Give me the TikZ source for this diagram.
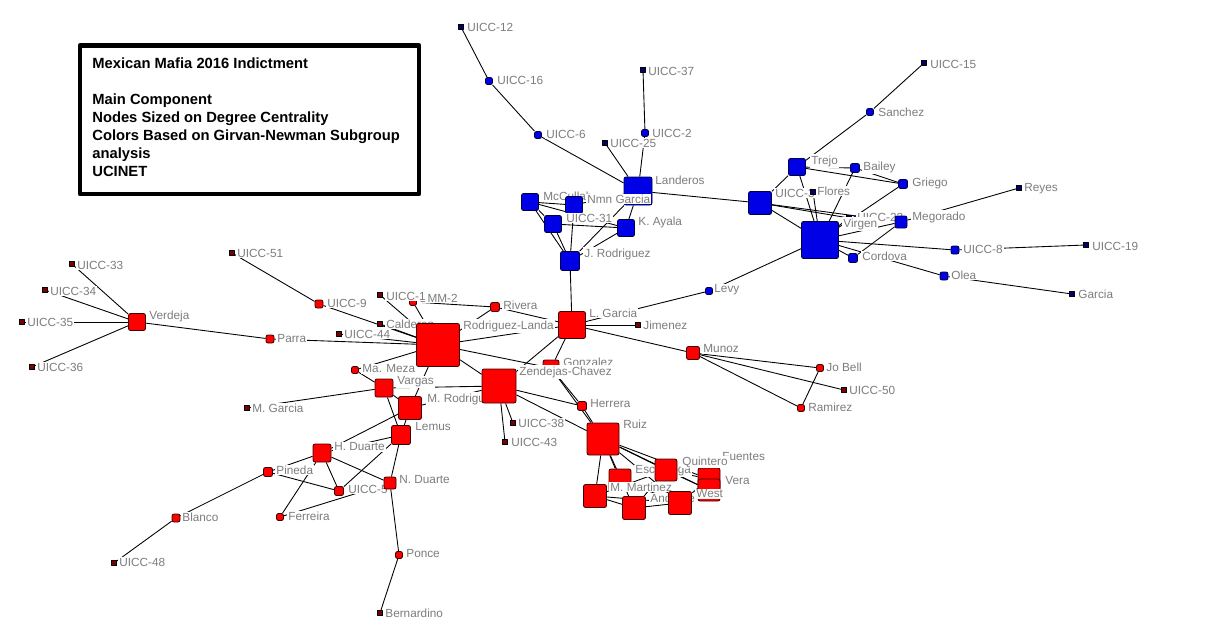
\documentclass[tikz,border=0pt]{standalone}
\usepackage{fontspec}
\usepackage{tikz}
\newfontfamily\lblfont{Liberation Sans}
\definecolor{ucred}{RGB}{255,0,0}
\definecolor{ucblue}{RGB}{0,0,230}
\definecolor{ucdkred}{RGB}{120,0,0}
\definecolor{ucdkblue}{RGB}{0,0,110}
\definecolor{ucgray}{RGB}{125,125,125}
\pgfdeclarelayer{bg}
\pgfsetlayers{bg,main}

\begin{document}
\begin{tikzpicture}[line cap=round,line join=round,x=0.02cm,y=-0.02cm,
  rsq/.style={draw=black!75!red,fill=ucred,rounded corners=1.2pt,inner sep=0pt,minimum size=#1*0.02cm,line width=0.5pt},
  bsq/.style={draw=black!75!blue,fill=ucblue,rounded corners=1.2pt,inner sep=0pt,minimum size=#1*0.02cm,line width=0.5pt},
  rdot/.style={draw=black,fill=ucdkred,inner sep=0pt,minimum size=0.1cm,line width=0.3pt},
  bdot/.style={draw=black,fill=ucdkblue,inner sep=0pt,minimum size=0.1cm,line width=0.3pt},
  lbl/.style={anchor=west,text=ucgray,fill=white,inner sep=0.6pt,font=\lblfont\fontsize{6.7}{8}\selectfont},
  tie/.style={line width=0.5pt,black}]
\useasboundingbox (0,0) rectangle (1206,642);

% legend box
\draw[line width=2.55pt] (80,45.5) rectangle (419,194);
\node[anchor=north west,align=left,inner sep=0pt,font=\lblfont\bfseries\fontsize{8.4}{10.2}\selectfont] (legend) at (92,57.5)
  {Mexican Mafia 2016 Indictment\\[10.2pt]Main Component\\Nodes Sized on Degree Centrality\\Colors Based on Girvan-Newman Subgroup\\analysis\\UCINET};

% red subgroup, left
\node[rsq=17] (verdeja) at (137,322) {}; \node[lbl] (verdeja-t) at (148,316) {Verdeja};
\node[rdot] (u33) at (72,264) {}; \node[lbl] (u33-t) at (76,265) {UICC-33};
\node[rdot] (u34) at (45,290) {}; \node[lbl] (u34-t) at (49,291) {UICC-34};
\node[rdot] (u35) at (22,322) {}; \node[lbl] (u35-t) at (26,322) {UICC-35};
\node[rdot] (u36) at (32,367) {}; \node[lbl] (u36-t) at (36,367) {UICC-36};
\node[rdot] (u51) at (232,253) {}; \node[lbl] (u51-t) at (236,253) {UICC-51};
\node[rsq=8] (parra) at (270,339) {}; \node[lbl] (parra-t) at (276,339) {Parra};
\node[rsq=8] (u9) at (319,304) {}; \node[lbl] (u9-t) at (326,303) {UICC-9};
\node[rsq=7] (omm) at (413,302) {}; \node[lbl] (omm-t) at (417,298) {OMM-2};
\node[rdot] (u1) at (380,295) {}; \node[lbl] (u1-t) at (385,296) {UICC-1};
\node[rdot] (calderon) at (380,324) {}; \node[lbl] (calderon-t) at (385,324) {Calderon};
\node[rdot] (u44) at (339,334) {}; \node[lbl] (u44-t) at (343,334) {UICC-44};
\node[rsq=43] (rlanda) at (438,345) {}; \node[lbl] (rlanda-t) at (462,326) {Rodriguez-Landa};
\node[rsq=9] (rivera) at (495,307) {}; \node[lbl] (rivera-t) at (502,305) {Rivera};
\node[rsq=16] (gonzalez) at (551,368) {}; \node[lbl] (gonzalez-t) at (562,362) {Gonzalez};
\node[rsq=27] (lgarcia) at (572,325) {}; \node[lbl] (lgarcia-t) at (588,313) {L. Garcia};
\node[rdot] (jimenez) at (638,325) {}; \node[lbl] (jimenez-t) at (642,325) {Jimenez};
\node[rsq=7] (mmeza) at (355,370) {}; \node[lbl] (mmeza-t) at (361,369) {Ma. Meza};
\node[rdot] (mgarcia) at (247,408) {}; \node[lbl] (mgarcia-t) at (251,408) {M. Garcia};
\node[rsq=18] (vargas) at (384,388) {}; \node[lbl] (vargas-t) at (396,382) {Vargas};
\node[rsq=23] (mrodriguez) at (410,408) {}; \node[lbl] (mrodriguez-t) at (426,399) {M. Rodriguez};
\node[rsq=34] (zendejas) at (499,386) {}; \node[lbl] (zendejas-t) at (518,372) {Zendejas-Chavez};
\node[rsq=19] (lemus) at (401,435) {}; \node[lbl] (lemus-t) at (414,427) {Lemus};
\node[rsq=18] (hduarte) at (322,453) {}; \node[lbl] (hduarte-t) at (333,447) {H. Duarte};
\node[rsq=9] (pineda) at (268,472) {}; \node[lbl] (pineda-t) at (275,470) {Pineda};
\node[rsq=9] (u5) at (339,491) {}; \node[lbl] (u5-t) at (347,489) {UICC-5};
\node[rsq=12] (nduarte) at (390,483) {}; \node[lbl] (nduarte-t) at (398,480) {N. Duarte};
\node[rsq=7] (ferreira) at (280,517) {}; \node[lbl] (ferreira-t) at (287,516) {Ferreira};
\node[rsq=7] (ponce) at (399,555) {}; \node[lbl] (ponce-t) at (405,554) {Ponce};
\node[rdot] (bernardino) at (380,613) {}; \node[lbl] (bernardino-t) at (384,613) {Bernardino};
\node[rsq=8] (blanco) at (176,518) {}; \node[lbl] (blanco-t) at (181,517) {Blanco};
\node[rdot] (u48) at (114,563) {}; \node[lbl] (u48-t) at (118,562) {UICC-48};
\node[rdot] (u38) at (513,423) {}; \node[lbl] (u38-t) at (517,423) {UICC-38};
\node[rdot] (u43) at (505,442) {}; \node[lbl] (u43-t) at (510,442) {UICC-43};
\node[rsq=9] (herrera) at (582,406) {}; \node[lbl] (herrera-t) at (589,404) {Herrera};
\node[rsq=32] (ruiz) at (603,439) {}; \node[lbl] (ruiz-t) at (622,424) {Ruiz};
\node[rsq=13] (munoz) at (693,353) {}; \node[lbl] (munoz-t) at (702,349) {Munoz};
\node[rsq=7] (jobell) at (820,368) {}; \node[lbl] (jobell-t) at (825,367) {Jo Bell};
\node[rdot] (u50) at (844,390) {}; \node[lbl] (u50-t) at (848,390) {UICC-50};
\node[rsq=7] (ramirez) at (801,408) {}; \node[lbl] (ramirez-t) at (807,407) {Ramirez};

% red subgroup, Ruiz cluster
\node[rsq=22] (escarcega) at (620,480) {}; \node[lbl] (escarcega-t) at (634,471) {Escarcega};
\node[rsq=22] (fuentes) at (709,479) {}; \node[lbl] (fuentes-t) at (721,457) {Fuentes};
\node[rsq=22] (vera) at (709,490) {}; \node[lbl] (vera-t) at (724,481) {Vera};
\node[rsq=22] (quintero) at (666,470) {}; \node[lbl] (quintero-t) at (681,462) {Quintero};
\node[rsq=23] (mmartinez) at (595,496) {}; \node[lbl] (mmartinez-t) at (609,487) {M. Martinez};
\node[rsq=23] (andrade) at (634,508) {}; \node[lbl] (andrade-t) at (649,498) {Andrade};
\node[rsq=23] (west) at (680,503) {}; \node[lbl] (west-t) at (695,494) {West};

% blue subgroup
\node[bsq=7] (levy) at (709,291) {}; \node[lbl] (levy-t) at (713,290) {Levy};
\node[bdot] (u12) at (461,27) {}; \node[lbl] (u12-t) at (466,27) {UICC-12};
\node[bsq=7] (u16) at (489,81) {}; \node[lbl] (u16-t) at (496,80) {UICC-16};
\node[bsq=7] (u6) at (538,135) {}; \node[lbl] (u6-t) at (545,134) {UICC-6};
\node[bdot] (u37) at (643,70) {}; \node[lbl] (u37-t) at (647,71) {UICC-37};
\node[bsq=7] (u2) at (645,133) {}; \node[lbl] (u2-t) at (651,133) {UICC-2};
\node[bdot] (u25) at (605,143) {}; \node[lbl] (u25-t) at (609,143) {UICC-25};
\node[bsq=28] (landeros) at (638,191) {}; \node[lbl] (landeros-t) at (654,180) {Landeros};
\node[bsq=17] (mccullah) at (530,202) {}; \node[lbl] (mccullah-t) at (542,196) {McCullah};
\node[bsq=17] (nmn) at (574,205) {}; \node[lbl] (nmn-t) at (586,199) {Nmn Garcia};
\node[bsq=17] (u31) at (553,224) {}; \node[lbl] (u31-t) at (565,218) {UICC-31};
\node[bsq=17] (kayala) at (626,228) {}; \node[lbl] (kayala-t) at (637,222) {K. Ayala};
\node[bsq=19] (jrodriguez) at (570,261) {}; \node[lbl] (jrodriguez-t) at (583,254) {J. Rodriguez};
\node[bsq=7] (sanchez) at (870,112) {}; \node[lbl] (sanchez-t) at (877,112) {Sanchez};
\node[bdot] (u15) at (924,63) {}; \node[lbl] (u15-t) at (929,64) {UICC-15};
\node[bsq=17] (trejo) at (797,167) {}; \node[lbl] (trejo-t) at (810,161) {Trejo};
\node[bsq=9] (bailey) at (855,168) {}; \node[lbl] (bailey-t) at (862,167) {Bailey};
\node[bsq=9] (griego) at (903,184) {}; \node[lbl] (griego-t) at (911,183) {Griego};
\node[bsq=23] (u3) at (760,203) {}; \node[lbl] (u3-t) at (774,193) {UICC-3};
\node[bdot] (flores) at (813,192) {}; \node[lbl] (flores-t) at (816,191) {Flores};
\node[bdot] (u23) at (849,218) {}; \node[lbl] (u23-t) at (856,217) {UICC-23};
\node[bsq=12] (megorado) at (901,222) {}; \node[lbl] (megorado-t) at (911,217) {Megorado};
\node[bsq=37] (virgen) at (820,240) {}; \node[lbl] (virgen-t) at (842,224) {Virgen};
\node[bsq=9] (cordova) at (853,258) {}; \node[lbl] (cordova-t) at (861,256) {Cordova};
\node[bsq=8] (u8) at (955,250) {}; \node[lbl] (u8-t) at (962,249) {UICC-8};
\node[bdot] (u19) at (1086,245) {}; \node[lbl] (u19-t) at (1091,246) {UICC-19};
\node[bdot] (reyes) at (1019,188) {}; \node[lbl] (reyes-t) at (1023,189) {Reyes};
\node[bsq=8] (olea) at (944,276) {}; \node[lbl] (olea-t) at (950,275) {Olea};
\node[bdot] (garcia) at (1072,294) {}; \node[lbl] (garcia-t) at (1077,294) {Garcia};

% ties
\begin{pgfonlayer}{bg}
\fill[white] (0,0) rectangle (1206,642);
\draw[tie] (verdeja) -- (u33); \draw[tie] (verdeja) -- (u34); \draw[tie] (verdeja) -- (u35);
\draw[tie] (verdeja) -- (u36); \draw[tie] (verdeja) -- (parra); \draw[tie] (parra) -- (rlanda);
\draw[tie] (u51) -- (u9); \draw[tie] (u9) -- (rlanda); \draw[tie] (calderon) -- (rlanda);
\draw[tie] (u1) -- (rlanda); \draw[tie] (omm) -- (rlanda); \draw[tie] (omm) -- (rivera);
\draw[tie] (rivera) -- (rlanda); \draw[tie] (rivera) -- (lgarcia); \draw[tie] (u44) -- (rlanda);
\draw[tie] (rlanda) -- (lgarcia); \draw[tie] (rlanda) -- (zendejas); \draw[tie] (rlanda) -- (gonzalez);
\draw[tie] (rlanda) -- (mmeza); \draw[tie] (rlanda) -- (mrodriguez);
\draw[tie] (lgarcia) -- (gonzalez); \draw[tie] (lgarcia) -- (zendejas); \draw[tie] (lgarcia) -- (jimenez);
\draw[tie] (lgarcia) -- (levy); \draw[tie] (lgarcia) -- (munoz); \draw[tie] (lgarcia) -- (jrodriguez);
\draw[tie] (munoz) -- (jobell); \draw[tie] (munoz) -- (u50); \draw[tie] (munoz) -- (ramirez);
\draw[tie] (jobell) -- (ramirez);
\draw[tie] (zendejas) -- (vargas); \draw[tie] (zendejas) -- (u38); \draw[tie] (zendejas) -- (u43);
\draw[tie] (zendejas) -- (herrera); \draw[tie] (zendejas) -- (ruiz); \draw[tie] (zendejas) -- (mrodriguez);
\draw[tie] (gonzalez) -- (herrera); \draw[tie] (gonzalez) -- (ruiz); \draw[tie] (herrera) -- (ruiz);
\draw[tie] (vargas) -- (mmeza); \draw[tie] (vargas) -- (mgarcia); \draw[tie] (vargas) -- (mrodriguez);
\draw[tie] (vargas) -- (lemus); \draw[tie] (mrodriguez) -- (lemus); \draw[tie] (mrodriguez) -- (hduarte);
\draw[tie] (lemus) -- (hduarte); \draw[tie] (lemus) -- (u5); \draw[tie] (lemus) -- (nduarte);
\draw[tie] (hduarte) -- (u5); \draw[tie] (hduarte) -- (nduarte); \draw[tie] (hduarte) -- (pineda);
\draw[tie] (hduarte) -- (ferreira); \draw[tie] (pineda) -- (u5); \draw[tie] (pineda) -- (blanco);
\draw[tie] (blanco) -- (u48); \draw[tie] (ferreira) -- (nduarte); \draw[tie] (nduarte) -- (ponce);
\draw[tie] (ponce) -- (bernardino);
\draw[tie] (ruiz) -- (quintero); \draw[tie] (ruiz) -- (fuentes); \draw[tie] (ruiz) -- (vera);
\draw[tie] (ruiz) -- (escarcega); \draw[tie] (ruiz) -- (mmartinez); \draw[tie] (ruiz) -- (west);
\draw[tie] (ruiz) -- (andrade); \draw[tie] (mmartinez) -- (andrade); \draw[tie] (mmartinez) -- (west);
\draw[tie] (mmartinez) -- (quintero); \draw[tie] (andrade) -- (west); \draw[tie] (andrade) -- (quintero);
\draw[tie] (quintero) -- (fuentes); \draw[tie] (quintero) -- (vera); \draw[tie] (west) -- (fuentes);
\draw[tie] (west) -- (vera); \draw[tie] (escarcega) -- (west);
\draw[tie] (u12) -- (u16); \draw[tie] (u16) -- (u6); \draw[tie] (u6) -- (landeros);
\draw[tie] (u37) -- (u2); \draw[tie] (u2) -- (landeros); \draw[tie] (u25) -- (landeros);
\draw[tie] (landeros) -- (u3); \draw[tie] (landeros) -- (kayala); \draw[tie] (landeros) -- (jrodriguez);
\draw[tie] (landeros) -- (nmn); \draw[tie] (mccullah) -- (nmn); \draw[tie] (mccullah) -- (u31);
\draw[tie] (mccullah) -- (jrodriguez); \draw[tie] (mccullah) -- (kayala); \draw[tie] (nmn) -- (jrodriguez);
\draw[tie] (u31) -- (kayala); \draw[tie] (u31) -- (jrodriguez); \draw[tie] (kayala) -- (jrodriguez);
\draw[tie] (u3) -- (trejo); \draw[tie] (u3) -- (virgen); \draw[tie] (u3) -- (u23);
\draw[tie] (u3) -- (megorado); \draw[tie] (trejo) -- (virgen); \draw[tie] (trejo) -- (bailey);
\draw[tie] (trejo) -- (griego); \draw[tie] (bailey) -- (griego); \draw[tie] (bailey) -- (virgen);
\draw[tie] (flores) -- (virgen); \draw[tie] (griego) -- (virgen); \draw[tie] (virgen) -- (megorado);
\draw[tie] (virgen) -- (cordova); \draw[tie] (virgen) -- (u8); \draw[tie] (virgen) -- (levy);
\draw[tie] (virgen) -- (olea); \draw[tie] (virgen) -- (u23); \draw[tie] (cordova) -- (megorado);
\draw[tie] (olea) -- (garcia); \draw[tie] (u8) -- (u19); \draw[tie] (megorado) -- (reyes);
\draw[tie] (sanchez) -- (u15); \draw[tie] (sanchez) -- (trejo);
\end{pgfonlayer}
\end{tikzpicture}
\end{document}
